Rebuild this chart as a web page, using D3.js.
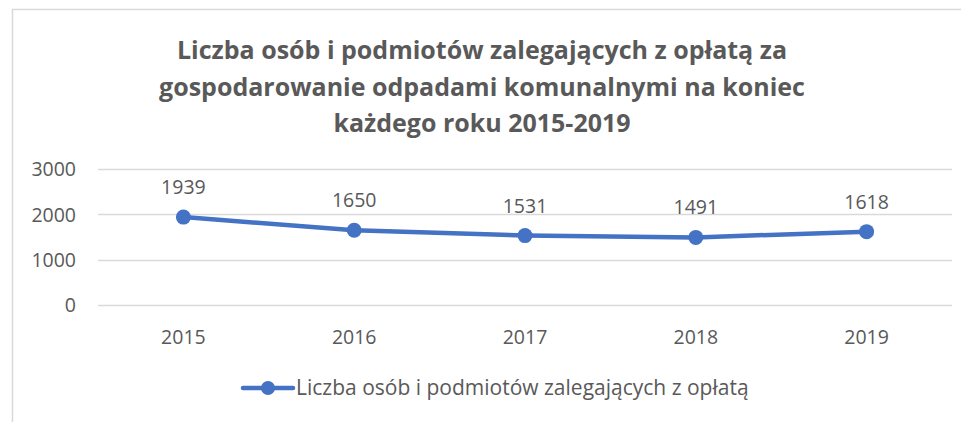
<!DOCTYPE html>
<html>
<head>
<meta charset="utf-8">
<script src="https://cdn.jsdelivr.net/npm/d3@7"></script>
<style>
  html, body { margin: 0; padding: 0; background: #fff; }
  svg { display: block; }
</style>
</head>
<body>
<svg id="chart" width="961" height="422"></svg>
<script>
// Series data
const years = ["2015", "2016", "2017", "2018", "2019"];
const values = [1939, 1650, 1531, 1491, 1618];
const yTicks = [0, 1000, 2000, 3000];
const titleLines = [
  "Liczba osób i podmiotów zalegających z opłatą za",
  "gospodarowanie odpadami komunalnymi na koniec",
  "każdego roku 2015-2019"
];
const seriesName = "Liczba osób i podmiotów zalegających z opłatą";

const W = 961, H = 422;
const font = "'Open Sans', 'Noto Sans', sans-serif";
const textColor = "#595959";
const lineColor = "#4472C4";

const svg = d3.select("#chart");

// Chart area frame (left and top edges visible)
svg.append("path")
  .attr("d", `M12.5,${H} L12.5,9.5 L${W},9.5`)
  .attr("fill", "none")
  .attr("stroke", "#d9d9d9")
  .attr("stroke-width", 1.5);

// Title
svg.append("g")
  .selectAll("text")
  .data(titleLines)
  .join("text")
  .attr("x", 482)
  .attr("y", (d, i) => 59 + i * 36.5)
  .attr("text-anchor", "middle")
  .attr("font-family", font)
  .attr("font-weight", 700)
  .attr("font-size", 25)
  .attr("fill", textColor)
  .text(d => d);

const plot = { left: 98, right: 952, top: 169, bottom: 305 };

const x = d3.scaleBand().domain(years).range([plot.left, plot.right]);
const y = d3.scaleLinear().domain([0, 3000]).range([plot.bottom, plot.top]);

// Gridlines
svg.append("g")
  .selectAll("line")
  .data(yTicks)
  .join("line")
  .attr("x1", plot.left)
  .attr("x2", plot.right)
  .attr("y1", d => Math.round(y(d)) + 0.5)
  .attr("y2", d => Math.round(y(d)) + 0.5)
  .attr("stroke", "#d9d9d9")
  .attr("stroke-width", 1.5);

// Y axis labels
const yAxis = d3.axisLeft(y).tickValues(yTicks).tickFormat(d3.format("d")).tickSize(0).tickPadding(0);
const gy = svg.append("g").attr("transform", `translate(${plot.left - 22},0)`).call(yAxis);
gy.select(".domain").remove();
gy.selectAll("text")
  .attr("font-family", font)
  .attr("font-size", 19.5)
  .attr("fill", textColor)
  .attr("dy", "0.35em");

// X axis labels
const xAxis = d3.axisBottom(x).tickSize(0).tickPadding(0);
const gx = svg.append("g").attr("transform", `translate(0,${plot.bottom + 32})`).call(xAxis);
gx.select(".domain").remove();
gx.selectAll("text")
  .attr("font-family", font)
  .attr("font-size", 19.5)
  .attr("fill", textColor)
  .attr("dy", "0.35em");

const cx = d => x(d) + x.bandwidth() / 2;
const pts = years.map((yr, i) => ({ yr, v: values[i] }));

// Line
svg.append("path")
  .datum(pts)
  .attr("d", d3.line().x(d => cx(d.yr)).y(d => y(d.v)))
  .attr("fill", "none")
  .attr("stroke", lineColor)
  .attr("stroke-width", 4.5)
  .attr("stroke-linecap", "round")
  .attr("stroke-linejoin", "round");

// Markers
svg.append("g")
  .selectAll("circle")
  .data(pts)
  .join("circle")
  .attr("cx", d => cx(d.yr))
  .attr("cy", d => y(d.v))
  .attr("r", 7.5)
  .attr("fill", lineColor);

// Data labels
svg.append("g")
  .selectAll("text")
  .data(pts)
  .join("text")
  .attr("x", d => cx(d.yr))
  .attr("y", d => y(d.v) - 23)
  .attr("text-anchor", "middle")
  .attr("font-family", font)
  .attr("font-size", 19.5)
  .attr("fill", textColor)
  .text(d => d.v);

// Legend
const lg = svg.append("g").attr("transform", "translate(0,388)");
lg.append("line")
  .attr("x1", 243).attr("x2", 293)
  .attr("y1", 0).attr("y2", 0)
  .attr("stroke", lineColor)
  .attr("stroke-width", 4.5)
  .attr("stroke-linecap", "round");
lg.append("circle")
  .attr("cx", 268).attr("cy", 0).attr("r", 7)
  .attr("fill", lineColor);
lg.append("text")
  .attr("x", 296)
  .attr("y", 0)
  .attr("dy", "0.35em")
  .attr("font-family", font)
  .attr("font-size", 21)
  .attr("fill", textColor)
  .text(seriesName);
</script>
</body>
</html>
